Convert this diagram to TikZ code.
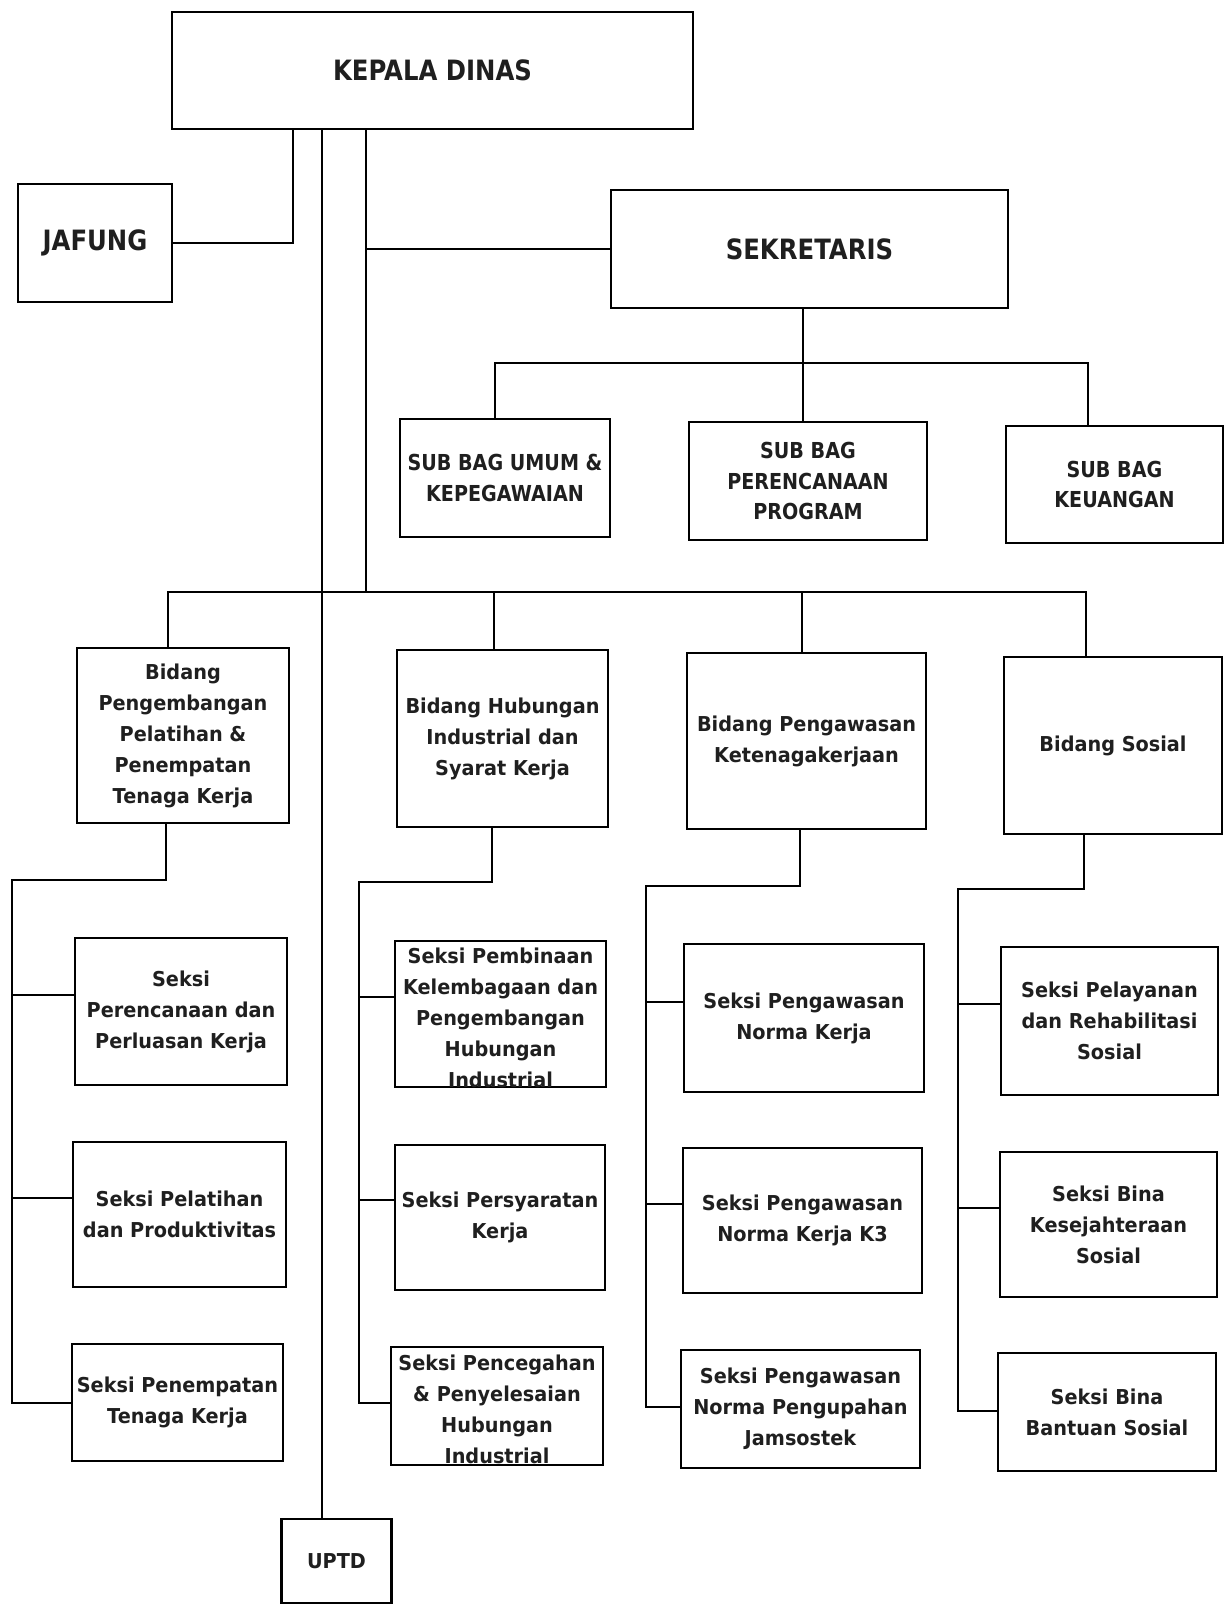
\documentclass[tikz,border=0pt]{standalone}
\usepackage{fontspec}
\newfontfamily\orgfont[FakeStretch=0.94]{DejaVu Sans}
\newfontfamily\orgcaps[FakeStretch=0.87]{DejaVu Sans}
\tikzset{
  orgbox/.style={draw, line width=2.2pt, align=center, inner sep=0pt, text=black!88,
    font=\orgfont\bfseries\fontsize{20.5}{31}\selectfont},
  headbox/.style={orgbox, font=\orgcaps\bfseries\fontsize{28}{34}\selectfont},
  subbox/.style={orgbox, font=\orgcaps\bfseries\fontsize{22}{30.5}\selectfont},
  seksitext/.style={align=center, inner sep=0pt, text=black!88,
    font=\orgfont\bfseries\fontsize{20.5}{31}\selectfont},
  orgline/.style={line width=2pt, line cap=rect},
}

\begin{document}
\begin{tikzpicture}[x=1pt, y=-1pt]
			\useasboundingbox (0,0) rectangle (1228,1605);
			% pimpinan
			\node[headbox, minimum width=521, minimum height=117] (kepala) at (432.5, 70.5) {KEPALA DINAS};
			\node[headbox, minimum width=154, minimum height=118] (jafung) at (95, 243) {JAFUNG};
			\node[headbox, minimum width=397, minimum height=118] (sekretaris) at (809.5, 249) {SEKRETARIS};
			\node[subbox, minimum width=210, minimum height=118] (umum) at (505, 478) {SUB BAG UMUM \&\\KEPEGAWAIAN};
			\node[subbox, minimum width=238, minimum height=118] (program) at (808, 481) {SUB BAG\\PERENCANAAN\\PROGRAM};
			\node[subbox, minimum width=217, minimum height=117] (keuangan) at (1114.5, 484.5) {SUB BAG\\KEUANGAN};
			% bidang
			\node[orgbox, minimum width=212, minimum height=175] (latih) at (183, 735.5) {Bidang\\Pengembangan\\Pelatihan \&\\Penempatan\\Tenaga Kerja};
			\node[orgbox, minimum width=211, minimum height=177] (hubin) at (502.5, 738.5) {Bidang Hubungan\\Industrial dan\\Syarat Kerja};
			\node[orgbox, minimum width=239, minimum height=176] (awas) at (806.5, 741) {Bidang Pengawasan\\Ketenagakerjaan};
			\node[orgbox, minimum width=218, minimum height=177] (sosial) at (1113, 745.5) {Bidang Sosial};
			% seksi
			\node[orgbox, minimum width=212, minimum height=147] (pk1) at (181, 1011.5) {Seksi\\Perencanaan dan\\Perluasan Kerja};
			\node[orgbox, minimum width=213, minimum height=145] (pk2) at (179.5, 1214.5) {Seksi Pelatihan\\dan Produktivitas};
			\node[orgbox, minimum width=211, minimum height=117] (pk3) at (177.5, 1402.5) {Seksi Penempatan\\Tenaga Kerja};
			\node[orgbox, minimum width=211, minimum height=146] (hi1) at (500.5, 1014) {};
			\node[orgbox, minimum width=210, minimum height=145] (hi2) at (500, 1217.5) {Seksi Persyaratan\\Kerja};
			\node[orgbox, minimum width=212, minimum height=118] (hi3) at (497, 1406) {};
			\node[orgbox, minimum width=240, minimum height=148] (wn1) at (804, 1018) {Seksi Pengawasan\\Norma Kerja};
			\node[orgbox, minimum width=239, minimum height=145] (wn2) at (802.5, 1220.5) {Seksi Pengawasan\\Norma Kerja K3};
			\node[orgbox, minimum width=239, minimum height=118] (wn3) at (800.5, 1409) {Seksi Pengawasan\\Norma Pengupahan\\Jamsostek};
			\node[orgbox, minimum width=217, minimum height=148] (sos1) at (1109.5, 1021) {Seksi Pelayanan\\dan Rehabilitasi\\Sosial};
			\node[orgbox, minimum width=217, minimum height=145] (sos2) at (1108.5, 1224.5) {Seksi Bina\\Kesejahteraan\\Sosial};
			\node[orgbox, minimum width=218, minimum height=118] (sos3) at (1107, 1412) {Seksi Bina\\Bantuan Sosial};
			\node[orgbox, minimum width=110, minimum height=84] (uptd) at (336.5, 1561) {UPTD};
			% text running past the box
			\begin{scope}
				\clip (hi1.south west) rectangle (hi1.north east);
				\node[seksitext, anchor=north] at ([yshift=-8]hi1.north) {Seksi Pembinaan\\Kelembagaan dan\\Pengembangan\\Hubungan\\Industrial};
			\end{scope}
			\begin{scope}
				\clip (hi3.south west) rectangle (hi3.north east);
				\node[seksitext, anchor=north] at ([yshift=-9]hi3.north) {Seksi Pencegahan\\\& Penyelesaian\\Hubungan\\Industrial};
			\end{scope}
			% garis
			\coordinate (kj) at ([xshift=-139.5]kepala.south);
			\coordinate (ku) at ([xshift=-110.5]kepala.south);
			\coordinate (ks) at ([xshift=-66.5]kepala.south);
			\coordinate (bus) at (366, 592);
			\coordinate (subbus) at (803, 363);
			\draw[orgline] (kj) |- (jafung.east);
			\draw[orgline] (ku) -- (ku |- uptd.north);
			\draw[orgline] (ks) |- (sekretaris.west);
			\draw[orgline] (ks) -- (bus);
			\draw[orgline] ([xshift=-6.5]sekretaris.south) -- (subbus);
			\draw[orgline] ([xshift=-10]umum.north) |- (subbus);
			\draw[orgline] ([xshift=-5]program.north) |- (subbus);
			\draw[orgline] ([xshift=-26.5]keuangan.north) |- (subbus);
			\draw[orgline] ([xshift=-15]latih.north) |- (bus);
			\draw[orgline] ([xshift=-9]hubin.north) |- (bus);
			\draw[orgline] ([xshift=-5]awas.north) |- (bus);
			\draw[orgline] ([xshift=-27]sosial.north) |- (bus);
			\coordinate (t1) at (12, 880);
			\coordinate (t2) at (359, 882);
			\coordinate (t3) at (646, 886);
			\coordinate (t4) at (958, 889);
			\draw[orgline] ([xshift=-17]latih.south) |- (t1);
			\draw[orgline] ([yshift=17]pk1.west) -| (t1);
			\draw[orgline] ([yshift=17]pk2.west) -| (t1);
			\draw[orgline] (pk3.west) -| (t1);
			\draw[orgline] ([xshift=-10.5]hubin.south) |- (t2);
			\draw[orgline] ([yshift=17]hi1.west) -| (t2);
			\draw[orgline] ([yshift=18]hi2.west) -| (t2);
			\draw[orgline] ([yshift=3]hi3.west) -| (t2);
			\draw[orgline] ([xshift=-7]awas.south) |- (t3);
			\draw[orgline] ([yshift=16]wn1.west) -| (t3);
			\draw[orgline] ([yshift=17]wn2.west) -| (t3);
			\draw[orgline] ([yshift=2]wn3.west) -| (t3);
			\draw[orgline] ([xshift=-29]sosial.south) |- (t4);
			\draw[orgline] ([yshift=17]sos1.west) -| (t4);
			\draw[orgline] ([yshift=17]sos2.west) -| (t4);
			\draw[orgline] ([yshift=1]sos3.west) -| (t4);
		\end{tikzpicture}
\end{document}
